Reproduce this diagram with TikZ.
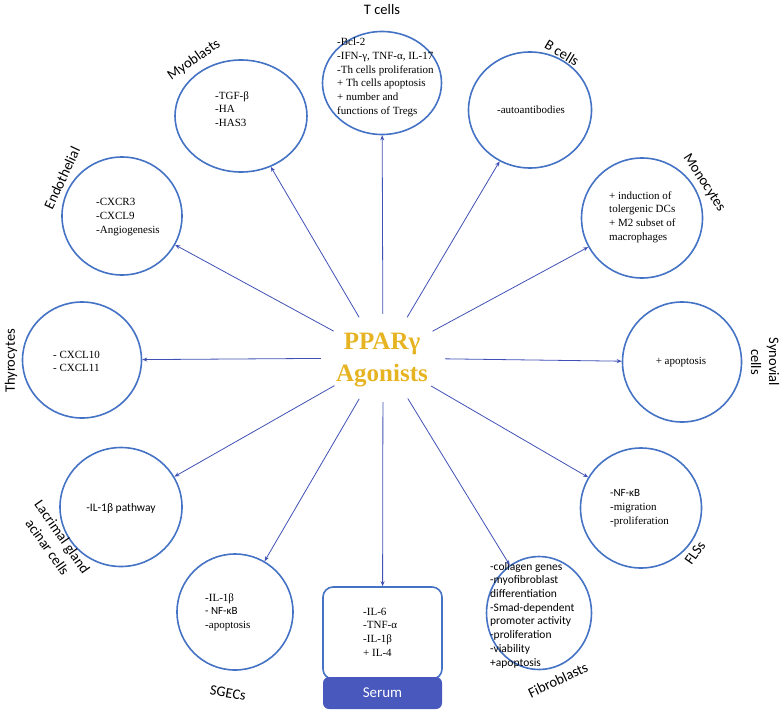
\documentclass[tikz,border=0pt]{standalone}
\usepackage{fontspec}
\setmainfont{Liberation Serif}
\newfontfamily\lab{Carlito}
\usetikzlibrary{shapes.geometric,arrows.meta}
\definecolor{cblue}{RGB}{68,114,196}
\definecolor{ablue}{RGB}{63,81,181}
\definecolor{sblue}{RGB}{72,88,188}
\definecolor{gold}{RGB}{230,180,35}
\begin{document}
\begin{tikzpicture}[x=1pt,y=-1pt,
 cell/.style={draw=cblue,line width=1.6pt,ellipse,inner sep=0pt},
 txt/.style={font=\fontsize{11}{13.7}\selectfont,align=left,inner sep=0pt,anchor=west},
 stxt/.style={font=\lab\fontsize{11.5}{13.7}\selectfont,align=left,inner sep=0pt,anchor=west},
 lbl/.style={font=\lab\fontsize{14.5}{18}\selectfont,inner sep=0pt,align=center},
 arr/.style={draw=ablue,line width=0.8pt,-{Stealth[length=5pt,width=4pt]}}]
\path[use as bounding box] (0,0) rectangle (783,717);

% centre
\node[ellipse,minimum width=124,minimum height=88,inner sep=0pt] (c) at (383,358) {};
\node[font=\bfseries\fontsize{25}{32}\selectfont,text=gold,align=center,inner sep=0pt] (ctext) at (382,360) {PPARγ\\Agonists};

% cells
\node[cell,minimum width=119,minimum height=103] (tc) at (382,83) {};
\node[cell,minimum width=132,minimum height=112] (my) at (241,116) {};
\node[cell,minimum width=123,minimum height=116] (bc) at (530,110) {};
\node[cell,minimum width=120,minimum height=118] (en) at (122,216) {};
\node[cell,minimum width=121,minimum height=120] (mo) at (642,218) {};
\node[cell,minimum width=119,minimum height=116] (th) at (82,360) {};
\node[cell,minimum width=119,minimum height=120] (sy) at (682,362) {};
\node[cell,minimum width=122,minimum height=119] (la) at (121,507) {};
\node[cell,minimum width=121,minimum height=120] (fl) at (641,508) {};
\node[cell,minimum width=116,minimum height=116] (sg) at (235,612) {};
\node[cell,minimum width=105,minimum height=113] (fi) at (539,613) {};
\node[draw=cblue,line width=1.6pt,rounded corners=10pt,minimum width=119,minimum height=92,inner sep=0pt] (sb) at (382.5,633) {};
\node[fill=sblue,rounded corners=6pt,minimum width=119,minimum height=32,inner sep=0pt,text=white,font=\lab\fontsize{15}{16}\selectfont] (sbar) at (382.5,693) {Serum};

% texts
\node[txt] (tct) at (337,77.5) {-Bcl-2\\-IFN-γ, TNF-α, IL-17\\-Th cells proliferation\\+ Th cells apoptosis\\+ number and\\functions of Tregs};
\node[txt] (myt) at (215,109) {-TGF-β\\-HA\\-HAS3};
\node[txt,anchor=center] (bct) at (531,110) {-autoantibodies};
\node[txt] (ent) at (96,217) {-CXCR3\\-CXCL9\\-Angiogenesis};
\node[txt] (mot) at (609,217) {+ induction of\\tolergenic DCs\\+ M2 subset of\\macrophages};
\node[txt] (tht) at (53,361.5) {- CXCL10\\- CXCL11};
\node[txt,anchor=center] (syt) at (681,362) {+ apoptosis};
\node[stxt,anchor=center] (lat) at (121,508) {-IL-1β pathway};
\node[txt] (flt) at (610,508) {{\lab -NF-κB}\\-migration\\-proliferation};
\node[stxt] (fit) at (490,615) {-collagen genes\\-myofibroblast\\differentiation\\-Smad-dependent\\promoter activity\\-proliferation\\-viability\\+apoptosis};
\node[txt] (sgt) at (205,612) {-IL-1β\\{\lab - NF-κB}\\-apoptosis};
\node[txt] (sbt) at (363,632) {-IL-6\\-TNF-α\\-IL-1β\\+ IL-4};

% labels
\node[lbl] (tcl) at (382,10) {T cells};
\node[lbl,rotate=35] (myl) at (194,60) {Myoblasts};
\node[lbl,rotate=-31] (bcl) at (562,53) {B cells};
\node[lbl,rotate=65] (enl) at (62,178) {Endothelial};
\node[lbl,rotate=-57] (mol) at (704,183) {Monocytes};
\node[lbl,rotate=90] (thl) at (11,361) {Thyrocytes};
\node[lbl,rotate=-90] (syl) at (765,362) {Synovial\\cells};
\node[lbl,rotate=-55] (lal) at (55,542) {Lacrimal gland\\acinar cells};
\node[lbl,rotate=55] (fll) at (695,553) {FLSs};
\node[lbl,rotate=25] (fil) at (558,680) {Fibroblasts};
\node[lbl,rotate=-10] (sgl) at (228,693) {SGECs};

% arrows
\foreach \t in {tc,my,bc,en,mo,th,sy,la,fl,sg,fi,sb}
  \draw[arr] (c) -- (\t);
\end{tikzpicture}
\end{document}
